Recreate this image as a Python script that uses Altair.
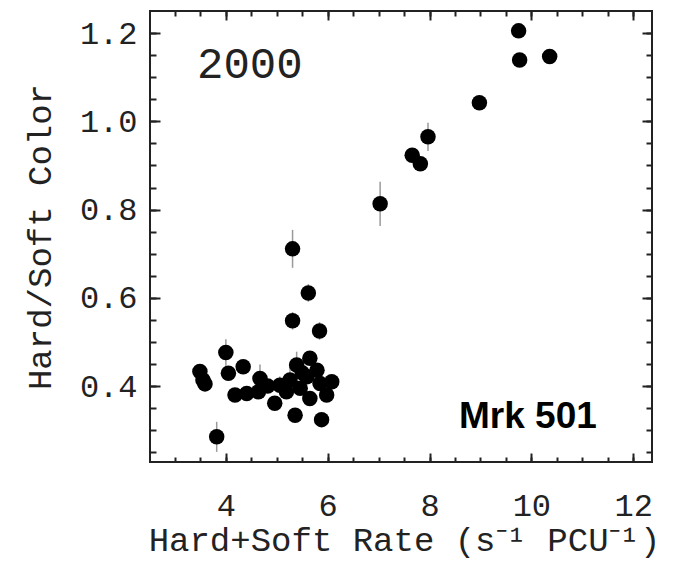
import altair as alt
import pandas as pd

# Hard+Soft rate (s^-1 PCU^-1) and Hard/Soft colour, Mrk 501, 2000
rate = [9.75, 9.77, 10.36, 8.98, 7.97, 7.66, 7.82, 7.03, 5.31, 5.62,
        5.31, 5.84, 4.00, 3.49, 3.55, 3.59, 4.05, 4.34, 4.18, 4.41,
        4.67, 4.64, 4.96, 5.06, 5.26, 5.36, 5.39, 5.65, 5.59, 5.79,
        5.46, 5.65, 5.98, 6.08, 5.88, 3.82, 5.19, 5.85, 4.82, 5.50]
color = [1.205, 1.139, 1.147, 1.042, 0.965, 0.923, 0.904, 0.813, 0.711, 0.611,
         0.548, 0.525, 0.476, 0.433, 0.414, 0.405, 0.429, 0.444, 0.380, 0.383,
         0.417, 0.387, 0.361, 0.402, 0.414, 0.334, 0.448, 0.463, 0.421, 0.436,
         0.395, 0.372, 0.380, 0.410, 0.324, 0.285, 0.387, 0.406, 0.400, 0.430]
err = [0.015, 0.015, 0.015, 0.015, 0.032, 0.015, 0.015, 0.050, 0.043, 0.020,
       0.020, 0.020, 0.030, 0.015, 0.015, 0.015, 0.015, 0.015, 0.015, 0.015,
       0.032, 0.015, 0.015, 0.020, 0.030, 0.015, 0.030, 0.015, 0.015, 0.015,
       0.015, 0.015, 0.015, 0.015, 0.015, 0.034, 0.015, 0.015, 0.015, 0.015]

x_major = [4, 6, 8, 10, 12]
x_minor = [3, 3.5, 4, 4.5, 5, 5.5, 6, 6.5, 7, 7.5, 8, 8.5, 9, 9.5, 10,
           10.5, 11, 11.5, 12]
y_major = [0.4, 0.6, 0.8, 1.0, 1.2]
y_minor = [0.25, 0.3, 0.35, 0.4, 0.45, 0.5, 0.55, 0.6, 0.65, 0.7, 0.75,
           0.8, 0.85, 0.9, 0.95, 1.0, 1.05, 1.1, 1.15, 1.2]

year_label = ["2000"]
source_label = ["Mrk 501"]

df = pd.DataFrame({"rate": rate, "color": color, "err": err})
df["lo"] = df["color"] - df["err"]
df["hi"] = df["color"] + df["err"]

FONT = "Liberation Mono"
INK = "#222222"
xs = alt.Scale(domain=[2.51, 12.37], nice=False, zero=False)
ys = alt.Scale(domain=[0.228, 1.25], nice=False, zero=False)


def tick_axis(orient, values, size):
    return alt.Axis(orient=orient, values=values, tickSize=size, offset=-size,
                    domain=False, grid=False, labels=False, ticks=True,
                    tickColor=INK, tickWidth=2, title=None)


base = alt.Chart(df)

errbars = base.mark_rule(color="#9a9a9a", strokeWidth=1.5).encode(
    x=alt.X("rate:Q", scale=xs, axis=tick_axis("bottom", x_minor, 5)),
    y=alt.Y("lo:Q", scale=ys, axis=tick_axis("left", y_minor, 6)),
    y2="hi:Q",
)

points = base.mark_circle(size=240, color="black", opacity=1).encode(
    x=alt.X("rate:Q", scale=xs, axis=alt.Axis(
        orient="bottom", values=x_major, format="d", tickSize=9, offset=-9,
        domain=False, grid=False, tickColor=INK, tickWidth=2,
        labelPadding=28, labelFont=FONT, labelFontSize=32, labelColor=INK,
        title="Hard+Soft Rate (s⁻¹ PCU⁻¹)", titleFont=FONT,
        titleFontSize=34, titleFontWeight="normal", titleColor=INK,
        titlePadding=2, titleX=254)),
    y=alt.Y("color:Q", scale=ys, axis=alt.Axis(
        orient="left", values=y_major, format=".1f", tickSize=10, offset=-10,
        domain=False, grid=False, tickColor=INK, tickWidth=2,
        labelPadding=13, labelFont=FONT, labelFontSize=32, labelColor=INK,
        title="Hard/Soft Color", titleFont=FONT, titleFontSize=34,
        titleFontWeight="normal", titleColor=INK, titlePadding=22)),
)

top_major = base.mark_circle(opacity=0).encode(
    x=alt.X("rate:Q", scale=xs, axis=tick_axis("top", x_major, 9)),
    y=alt.Y("color:Q", scale=ys, axis=tick_axis("right", y_major, 10)),
)
top_minor = base.mark_circle(opacity=0).encode(
    x=alt.X("rate:Q", scale=xs, axis=tick_axis("top", x_minor, 5)),
    y=alt.Y("color:Q", scale=ys, axis=tick_axis("right", y_minor, 6)),
)

year = alt.Chart(pd.DataFrame({"t": year_label})).mark_text(
    font=FONT, fontSize=44, color=INK, align="left", baseline="alphabetic"
).encode(x=alt.value(47), y=alt.value(67), text="t:N")

source = alt.Chart(pd.DataFrame({"t": source_label})).mark_text(
    font="Liberation Sans", fontSize=37, fontWeight="bold", color="black",
    align="left", baseline="alphabetic"
).encode(x=alt.value(309), y=alt.value(417), text="t:N")

chart = alt.layer(errbars, points, top_major, top_minor, year, source).resolve_axis(
    x="independent", y="independent"
).properties(
    width=502, height=451,
    padding={"left": 150, "top": 11, "right": 32, "bottom": 99},
    autosize=alt.AutoSizeParams(type="none"),
    background="white",
).configure_view(stroke="#222222", strokeWidth=2)

chart.save("out.html", embed_options={"renderer": "svg", "actions": False})
